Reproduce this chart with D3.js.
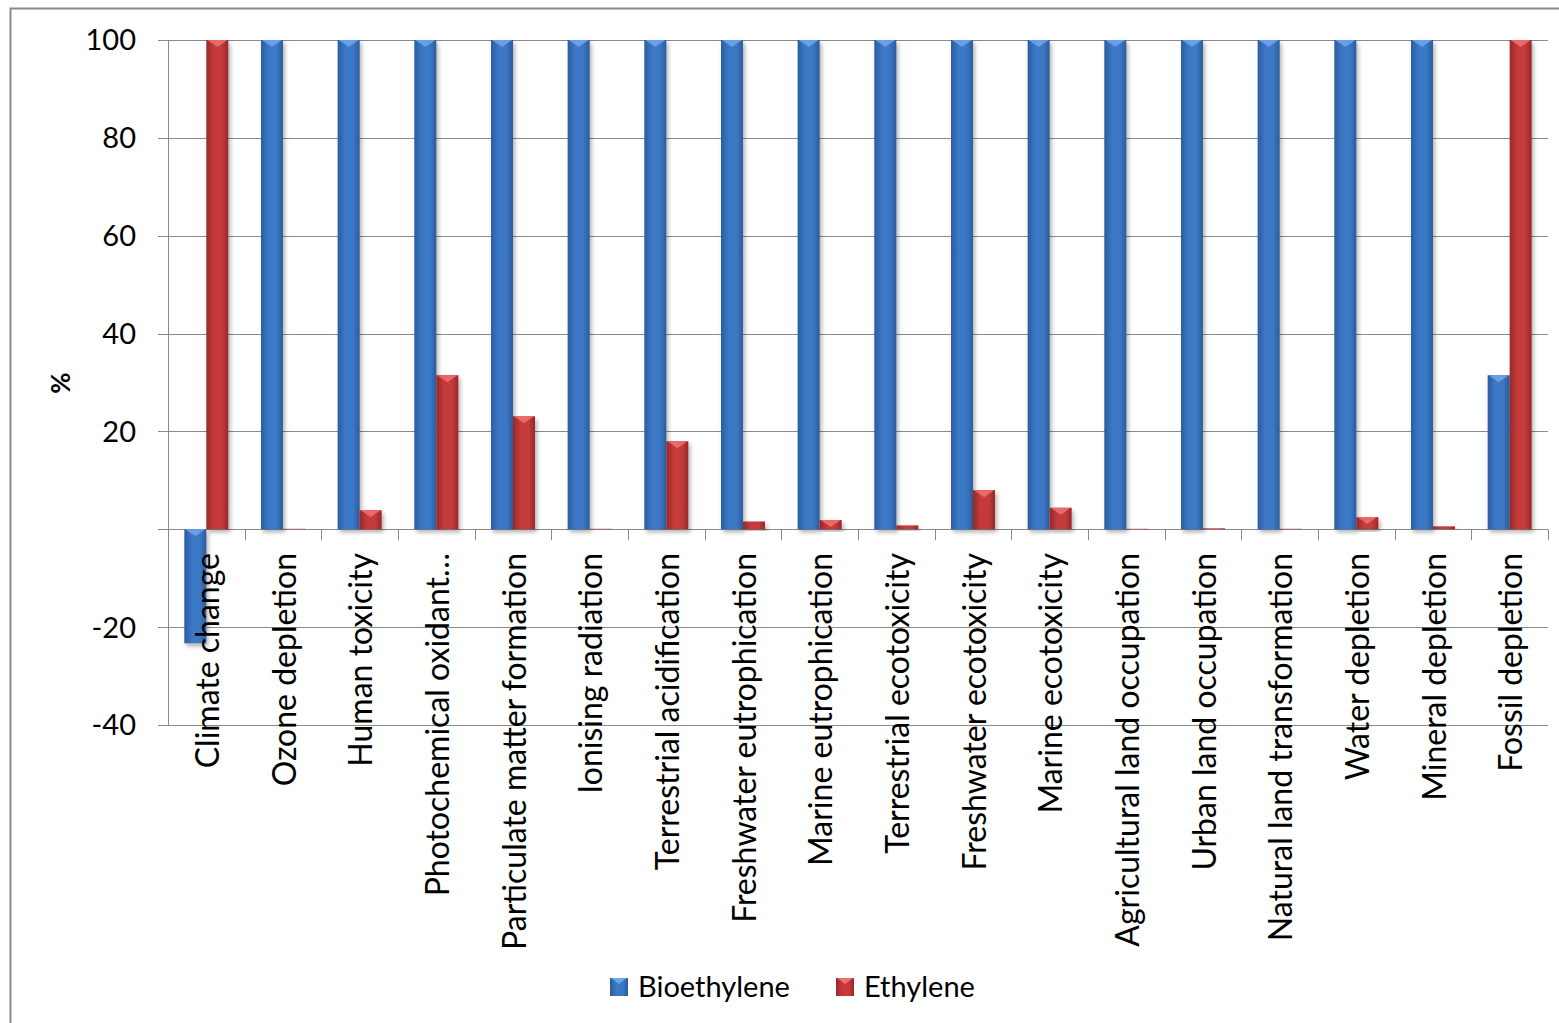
<!DOCTYPE html>
<html lang="en">
<head>
<meta charset="UTF-8">
<title>Bioethylene vs Ethylene</title>
<script src="https://cdn.jsdelivr.net/npm/d3@7"></script>
<style>
  body { margin: 0; background: #fff; }
  text { font-family: Lato, "Open Sans", sans-serif; fill: #000; }
</style>
</head>
<body>
<script>
var categories = ["Climate change", "Ozone depletion", "Human toxicity", "Photochemical oxidant\u2026",
  "Particulate matter formation", "Ionising radiation", "Terrestrial acidification",
  "Freshwater eutrophication", "Marine eutrophication", "Terrestrial ecotoxicity",
  "Freshwater ecotoxicity", "Marine ecotoxicity", "Agricultural land occupation",
  "Urban land occupation", "Natural land transformation", "Water depletion",
  "Mineral depletion", "Fossil depletion"];
var seriesNames = ["Bioethylene", "Ethylene"];
var bioethylene = [-23.3, 100, 100, 100, 100, 100, 100, 100, 100, 100, 100, 100, 100, 100, 100, 100, 100, 31.5];
var ethylene = [100, 0.1, 3.9, 31.5, 23.1, 0.1, 18, 1.6, 1.9, 0.8, 8, 4.4, 0.1, 0.2, 0.1, 2.5, 0.6, 100];
var yTicks = [-40, -20, 0, 20, 40, 60, 80, 100];

var width = 1559, height = 1023;
var svg = d3.select("body").append("svg").attr("width", width).attr("height", height);

var defs = svg.append("defs");
function grad(id, edge, mid) {
  var g = defs.append("linearGradient").attr("id", id).attr("x1", "0").attr("x2", "1").attr("y1", "0").attr("y2", "0");
  g.append("stop").attr("offset", "0%").attr("stop-color", edge);
  g.append("stop").attr("offset", "35%").attr("stop-color", mid);
  g.append("stop").attr("offset", "70%").attr("stop-color", mid);
  g.append("stop").attr("offset", "100%").attr("stop-color", edge);
}
grad("gBlue", "#2c5c9c", "#3b78c6");
grad("gRed", "#982828", "#c53b3b");
var sh = defs.append("filter").attr("id", "shadow").attr("x", "-30%").attr("y", "-10%").attr("width", "160%").attr("height", "130%");
sh.append("feDropShadow").attr("dx", 2).attr("dy", 3).attr("stdDeviation", 2).attr("flood-opacity", 0.3);

var colors = { Bioethylene: "url(#gBlue)", Ethylene: "url(#gRed)" };
var bevel = { Bioethylene: "#6ea3e8", Ethylene: "#ec6f6f" };

// outer frame (clipped on right/bottom)
svg.append("path").attr("d", "M10.5,1023V8.5H1559").attr("fill", "none").attr("stroke", "#8a8a8a").attr("stroke-width", 2);

var plotLeft = 168, plotRight = 1548, plotTop = 40, plotBottom = 725;
var y = d3.scaleLinear().domain([-40, 100]).range([plotBottom, plotTop]);
var x0 = d3.scaleBand().domain(categories).range([plotLeft, plotRight]).padding(0);
var barW = 22;
var x1 = d3.scaleBand().domain(seriesNames)
  .range([(x0.bandwidth() - 2 * barW) / 2, (x0.bandwidth() + 2 * barW) / 2]).padding(0);

// gridlines
svg.append("g").selectAll("line").data(yTicks).enter().append("line")
  .attr("x1", plotLeft - 10).attr("x2", plotRight)
  .attr("y1", function (d) { return Math.round(y(d)) + 0.5; })
  .attr("y2", function (d) { return Math.round(y(d)) + 0.5; })
  .attr("stroke", "#8a8a8a").attr("stroke-width", 1);

// y axis line
svg.append("line").attr("x1", plotLeft + 0.5).attr("x2", plotLeft + 0.5).attr("y1", y(100)).attr("y2", y(-40))
  .attr("stroke", "#8a8a8a");

// y tick labels
svg.append("g").selectAll("text").data(yTicks.filter(function (d) { return d !== 0; })).enter().append("text")
  .attr("x", 136).attr("y", function (d) { return y(d); })
  .attr("dy", "0.36em").attr("text-anchor", "end").style("font-size", "29px")
  .text(function (d) { return d; });

// y title
svg.append("text").attr("transform", "translate(70,383) rotate(-90)")
  .attr("text-anchor", "middle").style("font-size", "26px").style("font-weight", "bold").text("%");

// category boundary ticks
var bounds = categories.map(function (c) { return x0(c); }).concat([plotRight]);
svg.append("g").selectAll("line").data(bounds).enter().append("line")
  .attr("x1", function (d) { return Math.round(d) + 0.5; }).attr("x2", function (d) { return Math.round(d) + 0.5; })
  .attr("y1", y(0)).attr("y2", y(0) + 11).attr("stroke", "#8a8a8a");

// bars
var rows = [];
categories.forEach(function (c, i) {
  rows.push({ cat: c, s: "Bioethylene", v: bioethylene[i] });
  rows.push({ cat: c, s: "Ethylene", v: ethylene[i] });
});
var bars = svg.append("g").selectAll("g").data(rows).enter().append("g");
bars.append("rect")
  .attr("x", function (d) { return x0(d.cat) + x1(d.s); })
  .attr("y", function (d) { return Math.min(y(d.v), y(0)); })
  .attr("width", x1.bandwidth())
  .attr("height", function (d) { return Math.abs(y(d.v) - y(0)); })
  .attr("fill", function (d) { return colors[d.s]; })
  .attr("filter", "url(#shadow)");
bars.filter(function (d) { return Math.abs(y(d.v) - y(0)) > 8; }).append("path")
  .attr("d", function (d) {
    var bx = x0(d.cat) + x1(d.s), w = x1.bandwidth(), ty = Math.min(y(d.v), y(0));
    return "M" + (bx + 1) + "," + ty + "H" + (bx + w - 1) + "L" + (bx + w / 2) + "," + (ty + 7) + "Z";
  })
  .attr("fill", function (d) { return bevel[d.s]; }).attr("opacity", 0.9);

// category labels
svg.append("g").selectAll("text").data(categories).enter().append("text")
  .attr("transform", function (d) { return "translate(" + (x0(d) + x0.bandwidth() / 2 + 1) + ",553) rotate(-90)"; })
  .attr("text-anchor", "end").attr("dy", "0.36em").style("font-size", "32px")
  .text(function (d) { return d; });

// legend
var legend = svg.append("g");
var lx = [610, 836];
seriesNames.forEach(function (s, i) {
  legend.append("rect").attr("x", lx[i]).attr("y", 978).attr("width", 18).attr("height", 18)
    .attr("fill", colors[s]);
  legend.append("path").attr("d", "M" + (lx[i] + 1) + ",978H" + (lx[i] + 17) + "L" + (lx[i] + 9) + ",984Z")
    .attr("fill", bevel[s]);
  legend.append("text").attr("x", lx[i] + 28).attr("y", 987).attr("dy", "0.36em")
    .style("font-size", "29px").text(s);
});
</script>
</body>
</html>
